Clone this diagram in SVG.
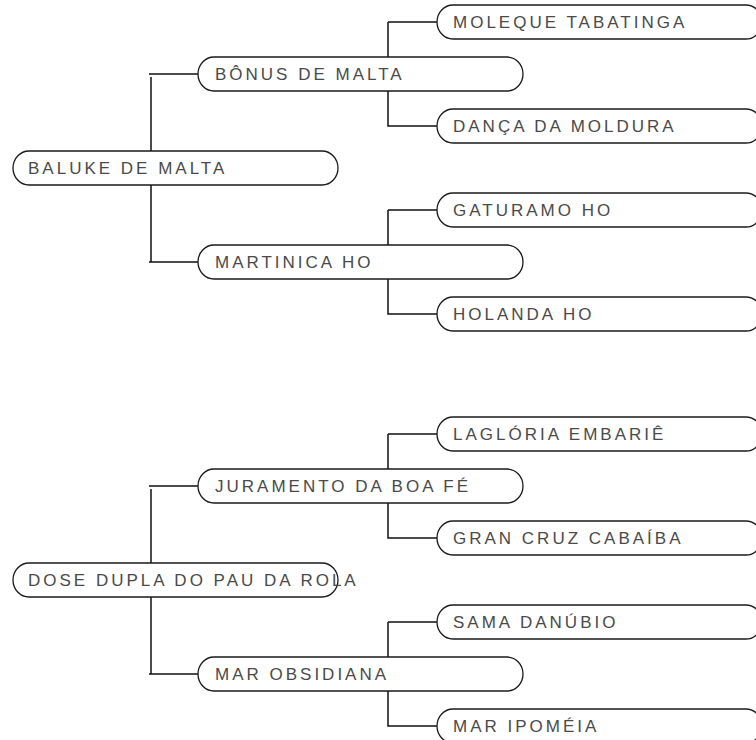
<svg xmlns="http://www.w3.org/2000/svg" width="756" height="740" viewBox="0 0 756 740">
<style>
.n rect{fill:#fff;stroke:#1a1a1a;stroke-width:1.3}
.n text{font-family:"Liberation Sans",Arial,sans-serif;font-size:17px;letter-spacing:3px;fill:#4a4a4a}
.c path{fill:none;stroke:#111;stroke-width:1.5}
</style>
<rect width="756" height="740" fill="#fff"/>
<g class="c" id="connectors">
<path d="M149 74H198M151 77V262M149 262H198"/>
<path d="M388 22H437M388 22V126H437"/>
<path d="M388 210H437M388 210V314H437"/>
<path d="M149 486H198M151 489V674M149 674H198"/>
<path d="M388 434H437M388 434V538H437"/>
<path d="M388 622H437M388 622V726H437"/>
</g>
<g class="n" id="baluke"><rect x="13" y="151" width="325" height="34" rx="16" ry="17"/><text x="28" y="174">BALUKE DE MALTA</text></g>
<g class="n" id="bonus"><rect x="198" y="57" width="325" height="34" rx="16" ry="17"/><text x="215" y="80">BÔNUS DE MALTA</text></g>
<g class="n" id="martinica"><rect x="198" y="245" width="325" height="34" rx="16" ry="17"/><text x="215" y="268">MARTINICA HO</text></g>
<g class="n" id="moleque"><rect x="437" y="5" width="325" height="34" rx="16" ry="17"/><text x="453" y="28">MOLEQUE TABATINGA</text></g>
<g class="n" id="danca"><rect x="437" y="109" width="325" height="34" rx="16" ry="17"/><text x="453" y="132">DANÇA DA MOLDURA</text></g>
<g class="n" id="gaturamo"><rect x="437" y="193" width="325" height="34" rx="16" ry="17"/><text x="453" y="216">GATURAMO HO</text></g>
<g class="n" id="holanda"><rect x="437" y="297" width="325" height="34" rx="16" ry="17"/><text x="453" y="320">HOLANDA HO</text></g>
<g class="n" id="dose"><rect x="13" y="563" width="325" height="34" rx="16" ry="17"/><text x="28" y="586">DOSE DUPLA DO PAU DA ROLA</text></g>
<g class="n" id="juramento"><rect x="198" y="469" width="325" height="34" rx="16" ry="17"/><text x="215" y="492">JURAMENTO DA BOA FÉ</text></g>
<g class="n" id="obsidiana"><rect x="198" y="657" width="325" height="34" rx="16" ry="17"/><text x="215" y="680">MAR OBSIDIANA</text></g>
<g class="n" id="lagloria"><rect x="437" y="417" width="325" height="34" rx="16" ry="17"/><text x="453" y="440">LAGLÓRIA EMBARIÊ</text></g>
<g class="n" id="grancruz"><rect x="437" y="521" width="325" height="34" rx="16" ry="17"/><text x="453" y="544">GRAN CRUZ CABAÍBA</text></g>
<g class="n" id="sama"><rect x="437" y="605" width="325" height="34" rx="16" ry="17"/><text x="453" y="628">SAMA DANÚBIO</text></g>
<g class="n" id="ipomeia"><rect x="437" y="709" width="325" height="34" rx="16" ry="17"/><text x="453" y="732">MAR IPOMÉIA</text></g>
</svg>
